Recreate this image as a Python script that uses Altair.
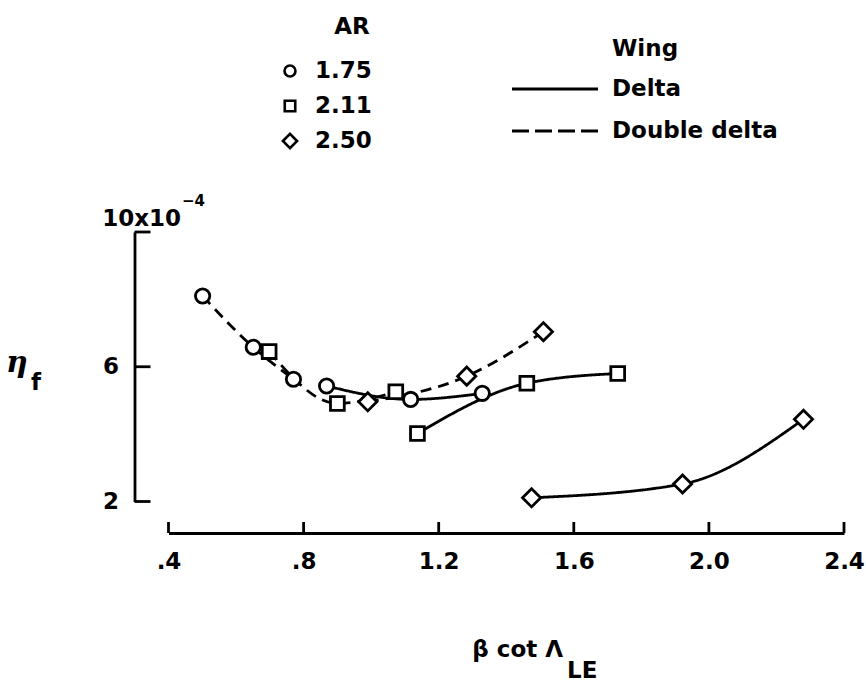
import altair as alt
import pandas as pd

# --- measured flow-quality parameter, grouped by wing planform and aspect ratio ---
# Delta wings (solid curves)
delta_175_x = [0.868, 1.117, 1.329]
delta_175_y = [5.43, 5.03, 5.21]
delta_211_x = [1.137, 1.461, 1.730]
delta_211_y = [4.02, 5.51, 5.80]
delta_250_x = [1.475, 1.922, 2.280]
delta_250_y = [2.11, 2.52, 4.44]
# Double-delta wings (dashed curves)
dd_175_x = [0.501, 0.651, 0.770]
dd_175_y = [8.10, 6.58, 5.63]
dd_211_x = [0.698, 0.900, 1.073]
dd_211_y = [6.45, 4.91, 5.26]
dd_250_x = [0.990, 1.283, 1.510]
dd_250_y = [4.96, 5.72, 7.04]

ar_labels = ["1.75", "2.11", "2.50"]
ar_shapes = ["circle", "square", "diamond"]
ar_sizes = [205, 190, 330]
wing_labels = ["Delta", "Double delta"]
wing_dashes = [[1, 0], [11, 7]]

x_ticks = [0.4, 0.8, 1.2, 1.6, 2.0, 2.4]
y_ticks = [2, 6, 10]

series = [
    ("Delta", "1.75", delta_175_x, delta_175_y),
    ("Delta", "2.11", delta_211_x, delta_211_y),
    ("Delta", "2.50", delta_250_x, delta_250_y),
    ("Double delta", "1.75", dd_175_x, dd_175_y),
    ("Double delta", "2.11", dd_211_x, dd_211_y),
    ("Double delta", "2.50", dd_250_x, dd_250_y),
]
rows = []
for wing, ar, xs, ys in series:
    for xv, yv in zip(xs, ys):
        rows.append({"wing": wing, "ar": ar, "curve": wing + " " + ar, "x": xv, "y": yv})
df = pd.DataFrame(rows)

# --- layout ---
X0, Y0 = 168.5, 232.0          # plot-area origin on the page
W, H = 675.5, 269.5            # plot-area size
XAX_OFF, YAX_OFF = 31.5, 34    # detached axes
SANS = "DejaVu Sans"
FS = 23
INK = "black"
LW = 2.8


def px(x):
    return x - X0


def py(y):
    return y - Y0


def label(text, x, y, size=FS, align="left", baseline="alphabetic",
          font=SANS, weight="bold", style="normal"):
    return alt.Chart(pd.DataFrame({"t": [text]})).mark_text(
        align=align, baseline=baseline, font=font, fontSize=size,
        fontWeight=weight, fontStyle=style, color=INK
    ).encode(text="t:N", x=alt.value(px(x)), y=alt.value(py(y)))


x_scale = alt.Scale(domain=[0.4, 2.4], nice=False, zero=False)
y_scale = alt.Scale(domain=[2, 10], nice=False, zero=False)

x_enc = alt.X(
    "x:Q", scale=x_scale,
    axis=alt.Axis(
        values=x_ticks, title=None, grid=False, ticks=False, tickSize=0,
        offset=XAX_OFF, domainColor=INK, domainWidth=LW,
        labelFont=SANS, labelFontSize=FS, labelFontWeight="bold",
        labelColor=INK, labelPadding=17, labelFlush=False,
        labelExpr="datum.value < 1 ? replace(format(datum.value, '.1f'), '0.', '.') : format(datum.value, '.1f')",
    ),
)
y_enc = alt.Y(
    "y:Q", scale=y_scale,
    axis=alt.Axis(
        values=y_ticks, title=None, grid=False, ticks=False, tickSize=0,
        offset=YAX_OFF, domainColor=INK, domainWidth=LW,
        labelFont=SANS, labelFontSize=FS, labelFontWeight="bold",
        labelColor=INK, labelPadding=16, labelFlush=False,
        labelExpr="datum.value == 10 ? '' : datum.label",
    ),
)

base = alt.Chart(df)

curves = base.mark_line(interpolate="monotone", color=INK, strokeWidth=LW).encode(
    x=x_enc, y=y_enc, detail="curve:N",
    strokeDash=alt.StrokeDash("wing:N", scale=alt.Scale(domain=wing_labels, range=wing_dashes), legend=None),
)

# one open-marker layer per aspect ratio
point_layers = []
for ar, shp, sz in zip(ar_labels, ar_shapes, ar_sizes):
    point_layers.append(
        base.transform_filter(alt.datum.ar == ar).mark_point(
            shape=shp, size=sz, filled=True, fill="white", stroke=INK,
            strokeWidth=LW, opacity=1,
        ).encode(x="x:Q", y="y:Q")
    )

# inward-pointing tick marks on the detached axes
xtick_df = pd.DataFrame({"x": x_ticks})
xticks = alt.Chart(xtick_df).mark_rule(color=INK, strokeWidth=LW).encode(
    x=alt.X("x:Q", scale=x_scale), y=alt.value(H + XAX_OFF), y2=alt.value(H + XAX_OFF - 11)
)
ytick_df = pd.DataFrame({"y": y_ticks})
yticks = alt.Chart(ytick_df).mark_rule(color=INK, strokeWidth=LW).encode(
    y=alt.Y("y:Q", scale=y_scale), x=alt.value(-YAX_OFF), x2=alt.value(-YAX_OFF + 16)
)

texts = [
    # top y label with its exponent
    label("10x10", 181, 226, align="right"),
    label("\u22124", 182, 206, size=15),
    # axis titles
    label("\u03b7", 6, 372, size=30, font="DejaVu Serif", weight="bold", style="italic"),
    label("f", 31, 390),
    label("\u03b2 cot \u039b", 563, 657, align="right"),
    label("LE", 567, 678),
    # legend titles
    label("AR", 352, 27, align="center", baseline="middle"),
    label("Wing", 612, 49, baseline="middle"),
]

# legend entries
sym_layers = []
sym_y = [71, 106, 141]
legend_sym_sizes = [120, 110, 200]
for lab, shp, sz, yy in zip(ar_labels, ar_shapes, legend_sym_sizes, sym_y):
    sym_layers.append(
        alt.Chart(pd.DataFrame({"t": [lab]})).mark_point(
            shape=shp, filled=True, fill="white", stroke=INK, strokeWidth=2.6,
            size=sz, opacity=1,
        ).encode(x=alt.value(px(290)), y=alt.value(py(yy)))
    )
    sym_layers.append(label(lab, 315, yy, baseline="middle"))

legend_dashes = [[1, 0], [17, 6]]
line_y = [89, 131]
for lab, dash, yy in zip(wing_labels, legend_dashes, line_y):
    sym_layers.append(
        alt.Chart(pd.DataFrame({"t": [lab]})).mark_rule(
            color=INK, strokeWidth=LW, strokeDash=dash
        ).encode(x=alt.value(px(512)), x2=alt.value(px(598)), y=alt.value(py(yy)))
    )
    sym_layers.append(label(lab, 612, yy, baseline="middle"))

chart = alt.layer(curves, *point_layers, xticks, yticks, *texts, *sym_layers).properties(
    width=W, height=H,
    autosize=alt.AutoSizeParams(type="none"),
    padding={"left": X0, "top": Y0, "right": 866 - X0 - W, "bottom": 682 - Y0 - H},
    background="white",
).configure_view(stroke=None)

chart.save("out.html", embed_options={"renderer": "svg", "actions": False})
